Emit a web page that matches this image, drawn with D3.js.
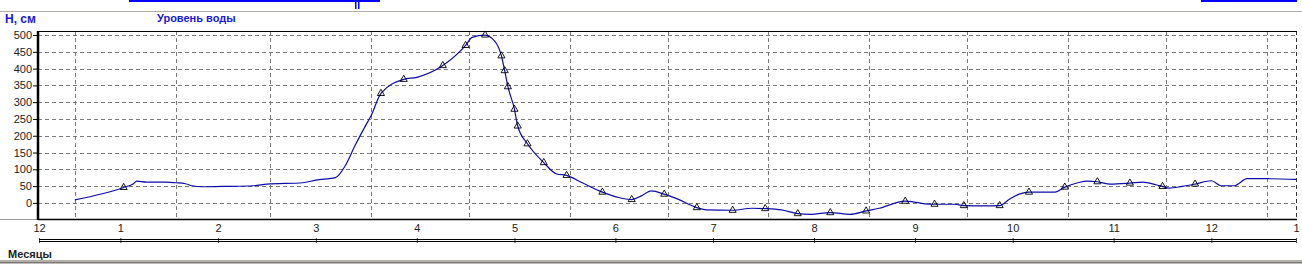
<!DOCTYPE html>
<html>
<head>
<meta charset="utf-8">
<script src="https://cdn.jsdelivr.net/npm/d3@7"></script>
<style>
  body { margin: 0; background: #fff; }
  text { font-family: Arial, "Liberation Sans", sans-serif; }
</style>
</head>
<body>
<div id="container"></div>
<script>
let w = 1302;
let h = 265;

// water level series (dates + cm)
let levelDates = [
  "2020-01-01","2020-01-16","2020-01-19","2020-01-20","2020-01-23","2020-01-29","2020-02-01",
  "2020-02-04","2020-02-06","2020-02-09","2020-02-15","2020-02-25","2020-02-29","2020-03-11",
  "2020-03-15","2020-03-21","2020-03-24","2020-03-27","2020-03-30","2020-04-01","2020-04-04",
  "2020-04-11","2020-04-15","2020-04-23","2020-04-30","2020-05-02","2020-05-06","2020-05-08",
  "2020-05-11","2020-05-12","2020-05-13","2020-05-15","2020-05-16","2020-05-19","2020-05-24",
  "2020-05-28","2020-05-31","2020-06-05","2020-06-11","2020-06-16","2020-06-20","2020-06-23",
  "2020-06-26","2020-06-30","2020-07-04","2020-07-10","2020-07-13","2020-07-21","2020-07-27",
  "2020-07-31","2020-08-05","2020-08-10","2020-08-14","2020-08-20","2020-08-26","2020-08-31",
  "2020-09-04","2020-09-12","2020-09-14","2020-09-18","2020-09-21","2020-09-27","2020-09-30",
  "2020-10-06","2020-10-11","2020-10-14","2020-10-17","2020-10-20","2020-10-28","2020-10-31",
  "2020-11-04","2020-11-07","2020-11-10","2020-11-14","2020-11-20","2020-11-24","2020-11-28",
  "2020-11-30","2020-12-02","2020-12-06","2020-12-10","2020-12-15","2020-12-18","2020-12-22",
  "2020-12-26","2021-01-01","2021-01-10"
];
let levelValues = [
  9, 46, 57, 65, 62, 62, 60,
  57, 51, 48, 49, 51, 56, 60,
  68, 75, 110, 170, 225, 260, 326,
  368, 374, 409, 469, 493, 500, 491,
  438, 394, 346, 279, 229, 176, 120,
  86, 82, 59, 32, 16, 10, 21,
  36, 26, 12, -14, -21, -22, -16,
  -17, -21, -32, -34, -29, -34, -24,
  -16, 5, 4, -3, -4, -4, -8,
  -9, -8, 11, 26, 32, 32, 47,
  60, 65, 63, 56, 59, 62, 54,
  49, 44, 49, 56, 66, 51, 51,
  72, 72, 70
];

// observation points shown with triangles
let obsDates = [
  "2020-01-16","2020-04-04","2020-04-11","2020-04-23","2020-04-30","2020-05-06","2020-05-11",
  "2020-05-12","2020-05-13","2020-05-15","2020-05-16","2020-05-19","2020-05-24","2020-05-31",
  "2020-06-11","2020-06-20","2020-06-30","2020-07-10","2020-07-21","2020-07-31","2020-08-10",
  "2020-08-20","2020-08-31","2020-09-12","2020-09-21","2020-09-30","2020-10-11","2020-10-20",
  "2020-10-31","2020-11-10","2020-11-20","2020-11-30","2020-12-10"
];
let obsValues = [
  46, 326, 368, 409, 469, 500, 438,
  394, 346, 279, 229, 176, 120, 82,
  32, 10, 26, -14, -22, -17, -32,
  -29, -24, 5, -4, -8, -8, 32,
  47, 63, 59, 49, 56
];

let yTicks = [0, 50, 100, 150, 200, 250, 300, 350, 400, 450, 500];
let monthTickDates = [
  "2019-12-21","2020-01-15","2020-02-14","2020-03-15","2020-04-15","2020-05-15","2020-06-15",
  "2020-07-15","2020-08-15","2020-09-15","2020-10-15","2020-11-15","2020-12-15","2021-01-10"
];
let monthTickLabels = ["12","1","2","3","4","5","6","7","8","9","10","11","12","1"];

let parseDate = d3.timeParse("%Y-%m-%d");

let viz = d3.select("#container")
  .append("svg")
    .attr("width", w)
    .attr("height", h)
;

let plotLeft = 38;
let plotRight = 1297;
let plotTop = 31;
let plotBottom = 219;

let xScale = d3.scaleTime()
  .domain([parseDate("2019-12-21"), parseDate("2021-01-10")])
  .range([plotLeft + 1, plotRight - 1]);
let yScale = d3.scaleLinear().domain([-48, 512]).range([plotBottom, plotTop]);

// window chrome at the top
viz.append('rect').attr('x', 129).attr('y', 0).attr('width', 251).attr('height', 2).attr('fill', '#0000ff');
viz.append('rect').attr('x', 355).attr('y', 0).attr('width', 1.5).attr('height', 9).attr('fill', '#0000ff');
viz.append('rect').attr('x', 358).attr('y', 0).attr('width', 1.5).attr('height', 9).attr('fill', '#0000ff');
viz.append('rect').attr('x', 1201).attr('y', 0).attr('width', 96).attr('height', 2).attr('fill', '#0000ff');
viz.append('line').attr('x1', 0).attr('x2', w).attr('y1', 11.5).attr('y2', 11.5)
  .attr('stroke', '#b0aca8').attr('stroke-width', 1);

viz.append('text').text('Н, см')
  .attr('x', 5).attr('y', 23)
  .attr('font-size', '12px').attr('font-weight', 'bold').attr('fill', '#1a1ad0');
viz.append('text').text('Уровень воды')
  .attr('x', 157).attr('y', 22)
  .attr('font-size', '11px').attr('font-weight', 'bold').attr('fill', '#1a1ad0');

// grid
let gridGroup = viz.append('g').attr('class', 'grid');
gridGroup.selectAll('.hgrid').data(yTicks).enter()
  .append('line')
    .attr('x1', plotLeft).attr('x2', plotRight)
    .attr('y1', function(d){ return Math.round(yScale(d)) + 0.5; })
    .attr('y2', function(d){ return Math.round(yScale(d)) + 0.5; })
    .attr('stroke', '#7a7a7a').attr('stroke-dasharray', '4,3')
;
let monthStarts = d3.timeMonth.range(parseDate("2020-01-01"), parseDate("2021-01-02"));
gridGroup.selectAll('.vgrid').data(monthStarts).enter()
  .append('line')
    .attr('x1', function(d){ return Math.round(xScale(d)) + 0.5; })
    .attr('x2', function(d){ return Math.round(xScale(d)) + 0.5; })
    .attr('y1', plotTop).attr('y2', plotBottom)
    .attr('stroke', '#7a7a7a').attr('stroke-dasharray', '4,3')
;
gridGroup.append('line')
  .attr('x1', plotRight - 0.5).attr('x2', plotRight - 0.5)
  .attr('y1', plotTop).attr('y2', plotBottom)
  .attr('stroke', '#333').attr('stroke-dasharray', '4,3');

// frame
viz.append('line').attr('x1', plotLeft).attr('x2', plotRight).attr('y1', plotTop + 0.5).attr('y2', plotTop + 0.5)
  .attr('stroke', '#000');
viz.append('line').attr('x1', 0).attr('x2', plotLeft).attr('y1', plotBottom + 0.5).attr('y2', plotBottom + 0.5)
  .attr('stroke', '#999');
viz.append('line').attr('x1', plotLeft).attr('x2', plotRight).attr('y1', plotBottom + 0.5).attr('y2', plotBottom + 0.5)
  .attr('stroke', '#000').attr('stroke-width', 1.5);

// y axis
let yAxis = d3.axisLeft(yScale).tickValues(yTicks).tickSize(5).tickPadding(1);
let yAxisGroup = viz.append('g').attr('class', 'yaxis')
  .attr('transform', 'translate(' + plotLeft + ',0)')
  .call(yAxis);
yAxisGroup.select('.domain').remove();
yAxisGroup.selectAll('text').attr('font-size', '11px').attr('fill', '#222').attr('font-family', 'Arial, "Liberation Sans", sans-serif');
yAxisGroup.selectAll('line').attr('stroke', '#000');
viz.append('line').attr('x1', plotLeft).attr('x2', plotLeft).attr('y1', plotTop).attr('y2', plotBottom + 1)
  .attr('stroke', '#000').attr('stroke-width', 2.5);

// x axis (months) with double line
let xAxis = d3.axisTop(xScale)
  .tickValues(monthTickDates.map(parseDate))
  .tickFormat(function(d, i){ return monthTickLabels[i]; })
  .tickSize(3).tickPadding(5);
let xAxisGroup = viz.append('g').attr('class', 'xaxis')
  .attr('transform', 'translate(0,240)')
  .call(xAxis);
xAxisGroup.select('.domain').remove();
xAxisGroup.selectAll('line').attr('y1', -2).attr('y2', 3).attr('stroke', '#444');
xAxisGroup.selectAll('text').attr('font-size', '11px').attr('fill', '#222').attr('font-family', 'Arial, "Liberation Sans", sans-serif');
viz.append('line').attr('x1', plotLeft + 1).attr('x2', plotRight - 1).attr('y1', 239.5).attr('y2', 239.5).attr('stroke', '#000');
viz.append('line').attr('x1', plotLeft + 1).attr('x2', plotRight - 1).attr('y1', 241.5).attr('y2', 241.5).attr('stroke', '#000');

viz.append('text').text('Месяцы')
  .attr('x', 8).attr('y', 258)
  .attr('font-size', '11px').attr('font-weight', 'bold').attr('fill', '#222');

viz.append('rect').attr('x', 0).attr('y', 260).attr('width', w).attr('height', 2).attr('fill', '#b4aea8');
viz.append('rect').attr('x', 0).attr('y', 262).attr('width', w).attr('height', 1.5).attr('fill', '#7c7874');

// level line
let levelData = levelDates.map(function(d, i){
  return { date: parseDate(d), value: levelValues[i] };
});
let lineMaker = d3.line()
  .x(function(d){ return xScale(d.date); })
  .y(function(d){ return yScale(d.value); })
  .curve(d3.curveMonotoneX);

viz.append('path')
  .datum(levelData)
  .attr('d', lineMaker)
  .attr('fill', 'none')
  .attr('stroke', '#0c0ca8')
  .attr('stroke-width', 1.2)
;

// observation markers
let obsData = obsDates.map(function(d, i){
  return { date: parseDate(d), value: obsValues[i] };
});
let triangle = d3.symbol().type(d3.symbolTriangle).size(22);
viz.append('g').attr('class', 'obs')
  .selectAll('path').data(obsData).enter()
  .append('path')
    .attr('d', triangle)
    .attr('transform', function(d){ return 'translate(' + xScale(d.date) + ',' + yScale(d.value) + ')'; })
    .attr('fill', 'none')
    .attr('stroke', '#000')
    .attr('stroke-width', 0.9)
;
</script>
</body>
</html>
